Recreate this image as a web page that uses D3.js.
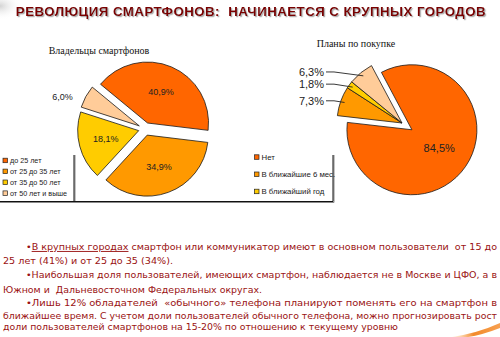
<!DOCTYPE html>
<html>
<head>
<meta charset="utf-8">
<script src="https://cdn.jsdelivr.net/npm/d3@7"></script>
<style>
  html, body { margin: 0; padding: 0; background: #fff; }
  svg { display: block; }
  text { white-space: pre; }
</style>
</head>
<body>
<svg id="slide" width="500" height="337"></svg>
<script>
// ---- data ----
const ownerCategories = ["до 25 лет", "от 25 до 35 лет", "от 35 до 50 лет", "от 50 лет и выше"];
const ownerShares = [40.9, 34.9, 18.1, 6.0];

const planLegend = ["Нет", "В ближайшие 6 мес.", "В ближайший год"];
const planShares = [84.5, 7.3, 1.8, 6.3];

const sliceColors = ["#FF6600", "#FF9900", "#FFCC00", "#FFCC99"];

const slideTitle = "РЕВОЛЮЦИЯ СМАРТФОНОВ:  НАЧИНАЕТСЯ С КРУПНЫХ ГОРОДОВ";
const ownerTitle = "Владельцы смартфонов";
const planTitle = "Планы по покупке";

const bodyLines = [
  { parts: [["•", false], ["В крупных городах", true], [" смартфон или коммуникатор имеют в основном пользователи  от 15 до", false]], indent: true, width: 471 },
  { parts: [["25 лет (41%) и от 25 до 35 (34%).", false]], indent: false, width: 170 },
  { parts: [["•Наибольшая доля пользователей, имеющих смартфон, наблюдается не в Москве и ЦФО, а в", false]], indent: true, width: 471 },
  { parts: [["Южном и  Дальневосточном Федеральных округах.", false]], indent: false, width: 259 },
  { parts: [["•Лишь 12% обладателей  «обычного» телефона планируют поменять его на смартфон в", false]], indent: true, width: 471 },
  { parts: [["ближайшее время. С учетом доли пользователей обычного телефона, можно прогнозировать рост", false]], indent: false, width: 494 },
  { parts: [["доли пользователей смартфонов на 15-20% по отношению к текущему уровню", false]], indent: false, width: 395 }
];
const bodyLineY = [246.7, 260.7, 275, 289.3, 302.7, 316, 326.7];

// ---- helpers ----
const svg = d3.select("#slide");
const fmtPct = v => d3.format(".1f")(v).replace(".", ",") + "%";
const deg = Math.PI / 180;
const dirOf = a => [Math.sin(a), -Math.cos(a)];

// background decoration
const defs = svg.append("defs");
const smudge = defs.append("radialGradient").attr("id", "smudge");
smudge.append("stop").attr("offset", "0%").attr("stop-color", "#c8c8c8").attr("stop-opacity", 0.8);
smudge.append("stop").attr("offset", "100%").attr("stop-color", "#ffffff").attr("stop-opacity", 0);
svg.append("ellipse").attr("cx", 0).attr("cy", 6).attr("rx", 22).attr("ry", 14).attr("fill", "url(#smudge)");

const swoosh = defs.append("linearGradient").attr("id", "swoosh").attr("x1", "0%").attr("x2", "100%");
swoosh.append("stop").attr("offset", "0%").attr("stop-color", "#FFD2A0").attr("stop-opacity", 0.3);
swoosh.append("stop").attr("offset", "45%").attr("stop-color", "#F28A2A");
swoosh.append("stop").attr("offset", "100%").attr("stop-color", "#F7A050");
svg.append("path")
  .attr("d", "M452,337 Q478,333 500,323 L500,328 Q482,335 468,337 Z")
  .attr("fill", "url(#swoosh)");

// soft shadow under the slide title
const shadow = defs.append("filter").attr("id", "titleShadow")
  .attr("x", "-5%").attr("y", "-40%").attr("width", "110%").attr("height", "180%");
shadow.append("feDropShadow").attr("dx", 1.2).attr("dy", 1.2).attr("stdDeviation", 0.6)
  .attr("flood-color", "#888").attr("flood-opacity", 0.7);

svg.append("text")
  .attr("x", 251).attr("y", 15.5).attr("text-anchor", "middle")
  .attr("font-family", "'Liberation Sans', Arial, sans-serif").attr("font-weight", "bold")
  .attr("font-size", 13.3).attr("letter-spacing", 0.45).attr("fill", "#7A0000")
  .attr("filter", "url(#titleShadow)")
  .text(slideTitle);

// ---- pie drawing ----
function drawPie(cfg) {
  const g = svg.append("g").attr("transform", `translate(${cfg.cx},${cfg.cy})`);
  const pie = d3.pie().sort(null).value(d => d)
    .startAngle(cfg.start * deg).endAngle(cfg.start * deg + 2 * Math.PI);
  const arcs = pie(cfg.values);
  const arc = d3.arc().innerRadius(0).outerRadius(cfg.r);
  arcs.forEach((a, i) => {
    const mid = (a.startAngle + a.endAngle) / 2;
    const [ux, uy] = dirOf(mid);
    const off = cfg.explode[i];
    a.mid = mid; a.ox = ux * off; a.oy = uy * off;
    g.append("path")
      .attr("d", arc(a))
      .attr("transform", `translate(${a.ox},${a.oy})`)
      .attr("fill", sliceColors[i])
      .attr("stroke", "#1a1a1a").attr("stroke-width", 0.8).attr("stroke-linejoin", "round");
  });
  return { g, arcs };
}

function drawLegend(items, x0, y0, step, fontSize, boxRight, boxTop, boxBottom) {
  const lg = svg.append("g");
  // shadowed frame: right and bottom edges
  lg.append("path")
    .attr("d", `M${boxRight + 1},${boxTop} V${boxBottom + 1} H0`)
    .attr("fill", "none").attr("stroke", "#8a8a8a").attr("stroke-width", 1);
  lg.append("path")
    .attr("d", `M${boxRight},${boxTop} V${boxBottom} H0`)
    .attr("fill", "none").attr("stroke", "#111").attr("stroke-width", 1);
  items.forEach((name, i) => {
    const y = y0 + i * step;
    lg.append("rect").attr("x", x0).attr("y", y - 2.5).attr("width", 4.5).attr("height", 4.5)
      .attr("fill", sliceColors[i]).attr("stroke", "#222").attr("stroke-width", 0.7);
    lg.append("text").attr("x", x0 + 7).attr("y", y).attr("dy", "0.35em")
      .attr("font-family", "'Liberation Sans', Arial, sans-serif").attr("font-size", fontSize)
      .attr("fill", "#222").text(name);
  });
}

// ---- left: smartphone owners ----
const ownerPie = drawPie({ cx: 145, cy: 129, r: 61, start: -50.5, values: ownerShares, explode: [6.5, 6.5, 6.5, 6.5] });
ownerPie.arcs.forEach((a, i) => {
  let x, y;
  if (i === 3) {
    // small slice: value placed outside the pie
    x = Math.sin(a.mid) * 94; y = -Math.cos(a.mid) * 66;
  } else {
    const [ux, uy] = dirOf(a.mid);
    x = a.ox + ux * 34; y = a.oy + uy * 34;
  }
  ownerPie.g.append("text").attr("x", x).attr("y", y).attr("dy", "0.35em")
    .attr("text-anchor", "middle")
    .attr("font-family", "'Liberation Sans', Arial, sans-serif").attr("font-size", 9)
    .attr("fill", "#222").text(fmtPct(ownerShares[i]));
});
svg.append("text").attr("x", 99).attr("y", 53.5).attr("text-anchor", "middle")
  .attr("font-family", "'Liberation Serif', 'Times New Roman', serif").attr("font-size", 10)
  .attr("fill", "#111").text(ownerTitle);
drawLegend(ownerCategories, 3, 160.7, 10.9, 7.2, 74, 155, 201.5);

// ---- right: purchase plans ----
const planPie = drawPie({ cx: 402, cy: 123, r: 65, start: -28, values: planShares, explode: [12, 0, 0, 0] });
planPie.arcs.forEach((a, i) => {
  const [ux, uy] = dirOf(a.mid);
  if (i === 0) {
    planPie.g.append("text").attr("x", a.ox + ux * 33).attr("y", a.oy + uy * 33).attr("dy", "0.35em")
      .attr("text-anchor", "middle")
      .attr("font-family", "'Liberation Sans', Arial, sans-serif").attr("font-size", 11)
      .attr("fill", "#222").text(fmtPct(planShares[i]));
  } else {
    const lx = -78, ly = uy * 66;
    const px = ux * 61, py = uy * 61;
    planPie.g.append("polyline")
      .attr("points", `${lx + 2},${ly} ${Math.min(px - 4, lx + 10)},${ly} ${px},${py}`)
      .attr("fill", "none").attr("stroke", "#222").attr("stroke-width", 0.9);
    planPie.g.append("text").attr("x", lx).attr("y", ly).attr("dy", "0.35em")
      .attr("text-anchor", "end")
      .attr("font-family", "'Liberation Sans', Arial, sans-serif").attr("font-size", 11)
      .attr("fill", "#222").text(fmtPct(planShares[i]));
  }
});
svg.append("text").attr("x", 356).attr("y", 46.5).attr("text-anchor", "middle")
  .attr("font-family", "'Liberation Serif', 'Times New Roman', serif").attr("font-size", 10)
  .attr("fill", "#111").text(planTitle);
drawLegend(planLegend, 254.5, 157.3, 17.2, 7.8, 333, 155, 201.5);

// ---- body text ----
bodyLines.forEach((line, i) => {
  const t = svg.append("text")
    .attr("x", line.indent ? 26 : 3).attr("y", bodyLineY[i]).attr("dy", "0.35em")
    .attr("textLength", line.width).attr("lengthAdjust", "spacingAndGlyphs")
    .attr("font-family", "'DejaVu Sans', Tahoma, sans-serif").attr("font-size", 9.3)
    .attr("fill", "#9A1212");
  line.parts.forEach(([s, under]) => {
    const ts = t.append("tspan").text(s);
    if (under) ts.attr("text-decoration", "underline");
  });
});
</script>
</body>
</html>
